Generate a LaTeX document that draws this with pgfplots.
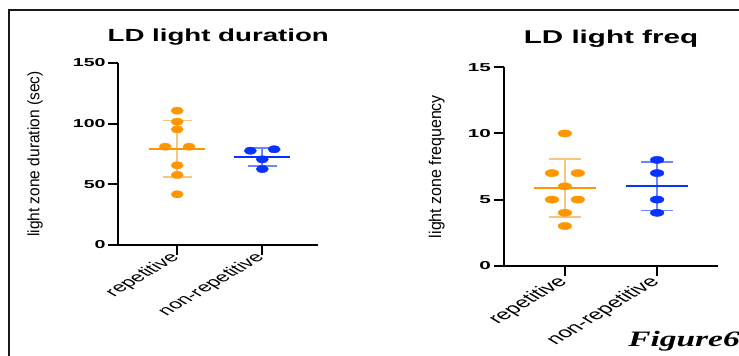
\documentclass[border=0pt]{standalone}
\usepackage{pgfplots}
\pgfplotsset{compat=1.18}
\usepackage{fontspec}
\setmainfont{Liberation Sans}
\newfontfamily\timesfont{Liberation Serif}
\definecolor{gpOrange}{RGB}{255,150,0}
\definecolor{gpOrangeL}{RGB}{248,196,128}
\definecolor{gpBlue}{RGB}{8,50,255}
\definecolor{gpBlueL}{RGB}{105,135,255}
\begin{document}
\begin{tikzpicture}
\useasboundingbox (0pt,0pt) rectangle (739pt,356pt);
\draw[line width=2pt, black!90] (8.7pt,-3pt) -- (8.7pt,345.7pt) -- (745pt,345.7pt);
\pgfplotsset{
  gp/.style={
    scale only axis,
    anchor=south west,
    axis lines=left,
    axis line style={-, line width=2pt, draw=black},
    tick style={line width=2pt, black},
    tick align=outside,
    major tick length=10pt,
    xtick={0,1},
    xticklabels={repetitive,non-repetitive},
    /pgf/number format/assume math mode=true,
    clip=false,
  },
  meanline/.style={line width=2.3pt, forget plot},
  errline/.style={line width=1.8pt, forget plot},
  dots/.style={only marks, mark=*, mark size=3.6pt},
}
% ---------------- left panel ----------------
\begin{axis}[gp, at={(118.5pt,111pt)}, width=199.5pt, height=182pt,
  xmin=-0.69, xmax=1.655, ymin=0, ymax=150, ytick={0,50,100,150},
  xticklabel style={font=\fontsize{13.5}{16}\selectfont, xscale=1.7, rotate=45, anchor=east, inner sep=1pt},
  yticklabel style={font=\bfseries\fontsize{11.5}{13}\selectfont, xscale=1.7, inner sep=1.5pt},
  title={LD light duration},
  every axis title/.style={at={(0.5,1)}, anchor=base, font=\bfseries\fontsize{17.5}{20}\selectfont, xscale=1.58, yshift=21.3pt},
  every axis y label/.style={at={(axis description cs:-0.397,0.5)}, rotate=90, xscale=0.94, anchor=base, font=\fontsize{16.5}{19}\selectfont},
  ylabel={light zone duration (sec)},
]
% repetitive: mean 79.35, SD 23.3
\addplot[errline, gpOrangeL] coordinates {(0,56.05) (0,102.65)};
\addplot[errline, gpOrangeL] coordinates {(-0.17,102.65) (0.17,102.65)};
\addplot[errline, gpOrangeL] coordinates {(-0.17,56.05) (0.17,56.05)};
\addplot[meanline, gpOrange] coordinates {(-0.33,79.35) (0.33,79.35)};
% non-repetitive: mean 72.45, SD 7.52
\addplot[errline, gpBlueL] coordinates {(1,64.93) (1,79.97)};
\addplot[errline, gpBlueL] coordinates {(0.83,79.97) (1.17,79.97)};
\addplot[errline, gpBlueL] coordinates {(0.83,64.93) (1.17,64.93)};
\addplot[meanline, gpBlue] coordinates {(0.67,72.45) (1.33,72.45)};
\addplot[dots, gpOrange, mark options={xscale=1.7}] coordinates {
 (0,110.7) (0,101.6) (0,95.3) (-0.14,81.0) (0.14,81.0) (0,65.7) (0,57.7) (0,41.8)};
\addplot[dots, gpBlue, mark options={xscale=1.7}] coordinates {
 (0.86,77.7) (1.14,78.9) (1,70.6) (1,62.6)};
\end{axis}
% ---------------- right panel ----------------
\begin{axis}[gp, at={(504pt,90.3pt)}, width=214pt, height=198.4pt,
  xmin=-0.66, xmax=1.66, ymin=0, ymax=15, ytick={0,5,10,15},
  xticklabel style={font=\fontsize{14.8}{17}\selectfont, yshift=-3pt, xscale=1.65, rotate=45, anchor=east, inner sep=1pt},
  yticklabel style={font=\bfseries\fontsize{11.5}{13}\selectfont, xscale=1.8, inner sep=1.5pt},
  title={LD light freq},
  every axis title/.style={at={(0.5,1)}, anchor=base, font=\bfseries\fontsize{18.5}{21}\selectfont, xscale=1.6, yshift=24pt},
  every axis y label/.style={at={(axis description cs:-0.294,0.5)}, rotate=90, xscale=0.94, anchor=base, font=\fontsize{17}{20}\selectfont},
  ylabel={light zone frequency},
]
% repetitive: mean 5.875, SD 2.167
\addplot[errline, gpOrangeL] coordinates {(0,3.708) (0,8.042)};
\addplot[errline, gpOrangeL] coordinates {(-0.17,8.042) (0.17,8.042)};
\addplot[errline, gpOrangeL] coordinates {(-0.17,3.708) (0.17,3.708)};
\addplot[meanline, gpOrange] coordinates {(-0.34,5.875) (0.34,5.875)};
% non-repetitive: mean 6, SD 1.826
\addplot[errline, gpBlueL] coordinates {(1,4.174) (1,7.826)};
\addplot[errline, gpBlueL] coordinates {(0.83,7.826) (1.17,7.826)};
\addplot[errline, gpBlueL] coordinates {(0.83,4.174) (1.17,4.174)};
\addplot[meanline, gpBlue] coordinates {(0.66,6) (1.34,6)};
\addplot[dots, gpOrange, mark options={xscale=1.9}] coordinates {
 (0,10) (-0.14,7) (0.14,7) (0,6) (-0.14,5) (0.14,5) (0,4) (0,3)};
\addplot[dots, gpBlue, mark options={xscale=1.9}] coordinates {
 (1,8) (1,7) (1,5) (1,4)};
\end{axis}
\node[anchor=base west, inner sep=0, font=\timesfont\bfseries\itshape\fontsize{22}{24}\selectfont, xscale=1.52] at (628pt,9.3pt) {Figure6};
\end{tikzpicture}
\end{document}
